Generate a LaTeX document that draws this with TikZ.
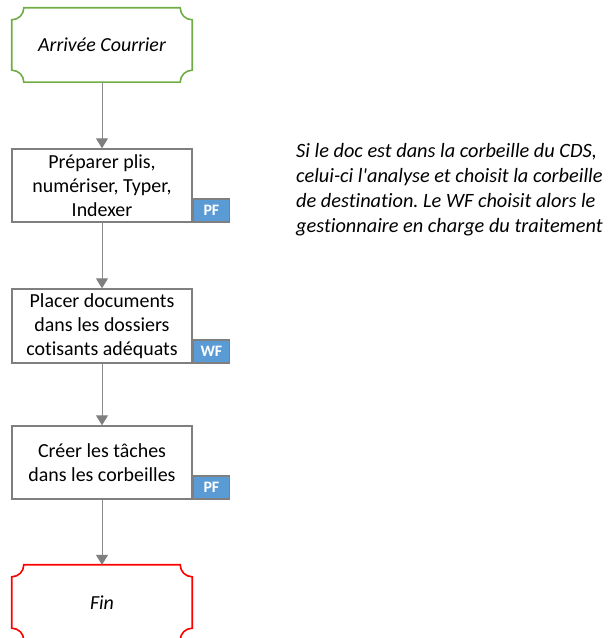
\documentclass[tikz,border=0pt]{standalone}
\usepackage{fontspec}
\setmainfont{Carlito}[Ligatures={TeXOff,CommonOff}]
\usetikzlibrary{arrows.meta,calc}
\frenchspacing

\definecolor{frameGreen}{HTML}{70AD47}
\definecolor{frameRed}{HTML}{FF0000}
\definecolor{boxGray}{HTML}{7F7F7F}
\definecolor{linkGray}{HTML}{8C8C8C}
\definecolor{tagBlue}{HTML}{5B9BD5}

% Rounded-notch frame drawn around a named node
\newcommand\notchframe[2]{%
  \draw[#2] ($(#1.north west)+(12,0)$) -- ($(#1.north east)+(-12,0)$)
    arc[start angle=180,end angle=270,radius=12]
    -- ($(#1.south east)+(0,12)$)
    arc[start angle=90,end angle=180,radius=12]
    -- ($(#1.south west)+(12,0)$)
    arc[start angle=0,end angle=90,radius=12]
    -- ($(#1.north west)+(0,-12)$)
    arc[start angle=270,end angle=360,radius=12]
    -- cycle;}

\tikzset{
  terminal/.style={rectangle,minimum width=180bp,inner sep=0pt,
    font=\fontsize{20}{24}\selectfont\itshape},
  stepbox/.style={rectangle,draw=boxGray,line width=1.4bp,fill=white,
    minimum width=180bp,minimum height=73bp,inner sep=1bp,align=center,
    font=\fontsize{20}{24}\selectfont},
  tag/.style={rectangle,draw=boxGray,line width=1.4bp,fill=tagBlue,
    minimum width=36bp,minimum height=23bp,inner sep=0pt,text=white,
    font=\fontsize{16}{16}\selectfont\bfseries,anchor=south west},
  link/.style={draw=linkGray,line width=1bp,
    -{Triangle[width=12bp,length=10bp,fill=boxGray,color=boxGray]}},
}

\begin{document}
\begin{tikzpicture}[x=1bp,y=1bp]
  \clip (0,0) rectangle (614,638);
  \useasboundingbox (0,0) rectangle (614,638);

  % start and end terminals
  \node[terminal,minimum height=74bp] (start) at (102,593) {Arrivée Courrier};
  \notchframe{start}{frameGreen,line width=1.6bp}
  \node[terminal,minimum height=75bp] (fin) at (102,35.5) {Fin};
  \notchframe{fin}{frameRed,line width=1.6bp}

  % process steps
  \node[stepbox] (prep) at (102,452.5) {Préparer plis,\\numériser, Typer,\\Indexer};
  \node[stepbox,minimum height=74bp] (place) at (102,312) {Placer documents\\dans les dossiers\\cotisants adéquats};
  \node[stepbox] (tasks) at (102,175.5) {Créer les tâches\\dans les corbeilles};

  % system tags
  \node[tag] (tagPrep) at (prep.south east) {PF};
  \node[tag] (tagPlace) at (place.south east) {WF};
  \node[tag] (tagTasks) at (tasks.south east) {PF};

  % flow
  \draw[link] (start.south) -- (prep.north);
  \draw[link] (prep.south) -- (place.north);
  \draw[link] (place.south) -- (tasks.north);
  \draw[link] (tasks.south) -- (fin.north);

  % side note
  \node[anchor=north west,inner sep=0pt,align=left,
    font=\fontsize{20.4}{25}\selectfont\itshape] (note) at (296,495)
    {Si le doc est dans la corbeille du CDS,\\celui-ci l'analyse et choisit la corbeille\\de destination. Le WF choisit alors le\\gestionnaire en charge du traitement};
\end{tikzpicture}
\end{document}
